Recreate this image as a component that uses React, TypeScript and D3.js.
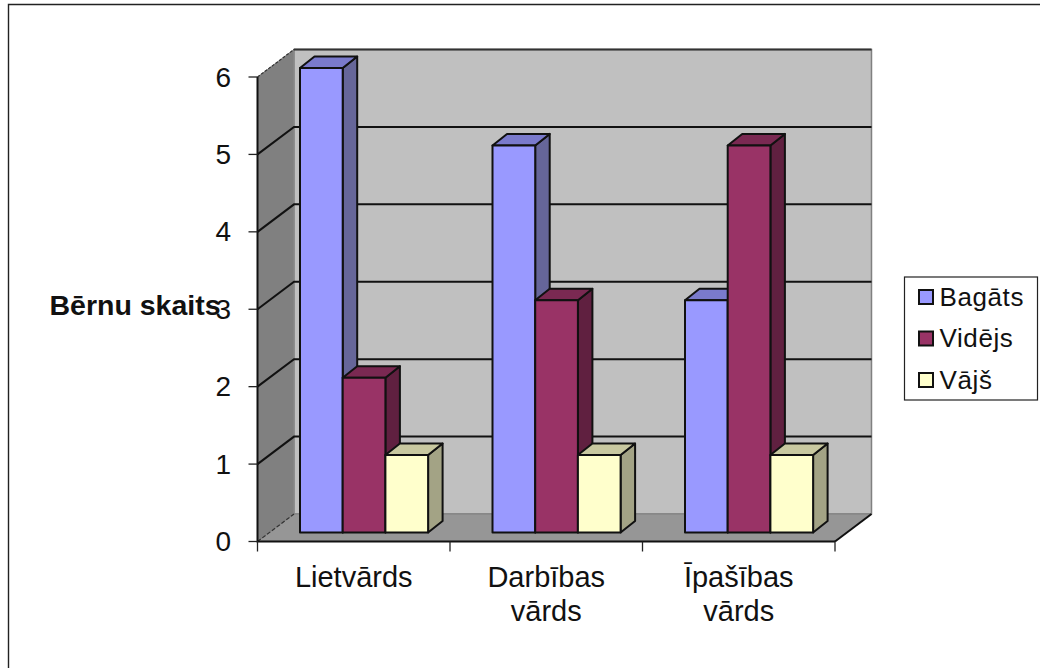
import React from "react";
import * as d3 from "d3";

const categories: string[][] = [["Lietvārds"], ["Darbības", "vārds"], ["Īpašības", "vārds"]];
const seriesNames = ["Bagāts", "Vidējs", "Vājš"];
const bagats = [6, 5, 3];
const videjs = [2, 3, 5];
const vajs = [1, 1, 1];
const seriesValues = [bagats, videjs, vajs];
const yTicks = [0, 1, 2, 3, 4, 5, 6];
const axisTitle = "Bērnu skaits";

const fronts = ["#9999ff", "#993366", "#ffffcc"];
const sides = ["#666699", "#602040", "#a3a385"];
const tops = ["#7a7acc", "#7a2952", "#c8c8a0"];

const FONT = "'Liberation Sans', Arial, sans-serif";
const W = 1040, H = 668;
const x0 = 257.5, x1 = 835, yBase = 541.5, yTop = 77;
const wallDx = 36.5, wallDy = -27.5;
const barDx = 14.5, barDy = -11.5;

const y = d3.scaleLinear().domain([0, 6]).range([yBase, yTop]);
const xBand = d3.scaleBand<number>().domain([0, 1, 2]).range([x0, x1]);
const barW = 42.7;
const barInset = 42.5;
const barLift = 9;

const pts = (p: number[][]) => p.map((q) => q.join(",")).join(" ");

export default function App() {
  const left = x0 + wallDx;
  const right = x1 + wallDx;
  const backBase = yBase + wallDy;
  const backTop = yTop + wallDy;
  return (
    <svg width={W} height={H} viewBox={`0 0 ${W} ${H}`} style={{ position: "absolute", left: 0, top: 0, background: "#fff" }} fontFamily={FONT}>
      <path d={`M8.5 668V4.5H1040`} fill="none" stroke="#222" strokeWidth={1.4} />
      <polygon points={pts([[left, backTop], [right, backTop], [right, backBase], [left, backBase]])} fill="#c0c0c0" stroke="#808080" strokeWidth={1.5} />
      <polygon points={pts([[x0, yTop], [left, backTop], [left, backBase], [x0, yBase]])} fill="#808080" stroke="#8c8c8c" strokeWidth={1} />
      <polygon points={pts([[x0, yBase], [left, backBase], [right, backBase], [x1, yBase]])} fill="#969696" stroke="#808080" strokeWidth={1} />
      <path d={`M${left} ${backTop}H${right}`} stroke="#333" strokeWidth={2} />
      <path d={`M${x0} ${yTop}L${left} ${backTop}`} stroke="#333" strokeWidth={1.2} strokeDasharray="3 1.5" />
      <path d={`M${x0} ${yBase}L${left} ${backBase}`} stroke="#333" strokeWidth={1.2} strokeDasharray="4 2" />
      {yTicks.filter((t) => t > 0 && t < 6).map((t) => (
        <path key={t} d={`M${x0} ${y(t)}L${left} ${y(t) + wallDy}H${right}`} fill="none" stroke="#111" strokeWidth={2} />
      ))}
      <path d={`M${x1} ${yBase}L${right} ${backBase}`} stroke="#111" strokeWidth={2} />
      <path d={`M${x0} ${yTop}V${yBase}H${x1}`} fill="none" stroke="#111" strokeWidth={2} />
      {yTicks.map((t) => (
        <g key={t}>
          <path d={`M${x0 - 9} ${y(t)}H${x0}`} stroke="#222" strokeWidth={1.3} />
          <text x={231} y={y(t) + 9.5} fontSize={28} textAnchor="end" fill="#111">{t}</text>
        </g>
      ))}
      {[0, 1, 2, 3].map((i) => {
        const tx = x0 + i * xBand.step();
        return <path key={i} d={`M${tx} ${yBase}V${yBase + 10}`} stroke="#222" strokeWidth={1.3} />;
      })}
      {categories.map((c, ci) => (
        <g key={ci}>
          {seriesValues.map((vals, si) => {
            const fx0 = xBand(ci)! + barInset + si * barW;
            const fx1 = fx0 + barW;
            const by = yBase - barLift;
            const ty = y(vals[ci]) - barLift;
            return (
              <g key={si} stroke="#111" strokeWidth={2} strokeLinejoin="round">
                <polygon points={pts([[fx1, ty], [fx1 + barDx, ty + barDy], [fx1 + barDx, by + barDy], [fx1, by]])} fill={sides[si]} />
                <polygon points={pts([[fx0, ty], [fx0 + barDx, ty + barDy], [fx1 + barDx, ty + barDy], [fx1, ty]])} fill={tops[si]} />
                <rect x={fx0} y={ty} width={barW} height={by - ty} fill={fronts[si]} />
              </g>
            );
          })}
          {c.map((line, li) => (
            <text key={li} x={xBand(ci)! + xBand.bandwidth() / 2} y={587 + li * 33.5} fontSize={29} textAnchor="middle" fill="#111">{line}</text>
          ))}
        </g>
      ))}
      <text x={49.5} y={315} fontSize={28.5} fontWeight="bold" fill="#111">{axisTitle}</text>
      <rect x={904.5} y={277} width={133} height={123} fill="#fff" stroke="#222" strokeWidth={1.2} />
      {seriesNames.map((n, i) => {
        const cy = 297 + i * 41.5;
        return (
          <g key={n}>
            <rect x={919} y={cy - 7} width={14} height={14} fill={fronts[i]} stroke="#111" strokeWidth={2} />
            <text x={939.5} y={cy + 8.5} fontSize={26} letterSpacing={0.6} fill="#111">{n}</text>
          </g>
        );
      })}
    </svg>
  );
}
